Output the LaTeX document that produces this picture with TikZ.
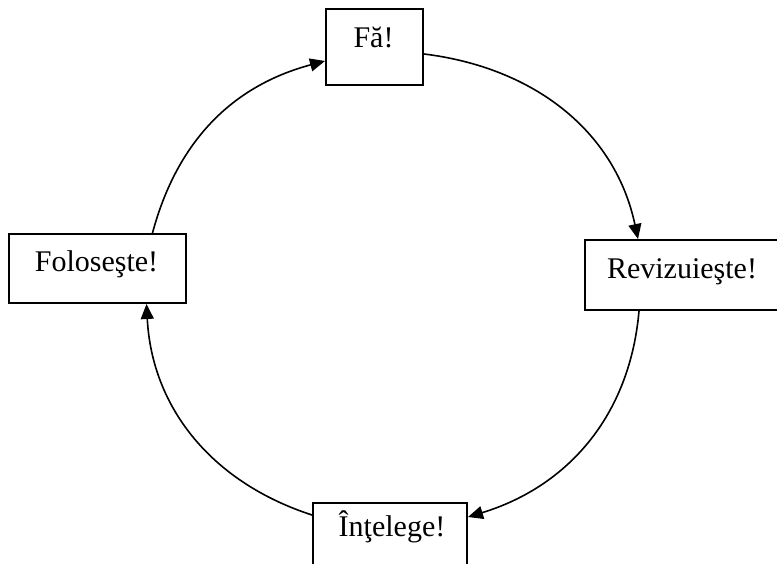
\documentclass[tikz,border=0pt]{standalone}
\usepackage{fontspec}
\setmainfont{Liberation Serif}
\usetikzlibrary{arrows.meta}
\begin{document}
\begin{tikzpicture}[x=1pt,y=1pt,
  stepbox/.style={draw, line width=2pt, inner sep=0pt, fill=white},
  lbl/.style={inner sep=0pt, font=\fontsize{30}{36}\selectfont},
  flow/.style={line width=1.6pt, -{Triangle[length=15pt,width=13pt]}}]
  \useasboundingbox (0,0) rectangle (777,563);
  \clip (0,0) rectangle (777,563);

  % boxes of the cycle
  \node[stepbox, minimum width=97pt, minimum height=76pt] (fa) at (374.5,516) {};
  \node[stepbox, minimum width=194pt, minimum height=70pt] (rev) at (682,288) {};
  \node[stepbox, minimum width=177pt, minimum height=69pt] (fol) at (97.5,294.5) {};
  \node[stepbox, minimum width=154pt, minimum height=70pt] (int) at (390,25) {};

  % texts, set near the top of each box
  \node[lbl, anchor=base] (falbl) at ([xshift=-1pt,yshift=-40pt]fa.north) {Fă!};
  \node[lbl, anchor=base] (revlbl) at ([yshift=-40pt]rev.north) {Revizuieşte!};
  \node[lbl, anchor=base] (follbl) at ([xshift=-1pt,yshift=-39pt]fol.north) {Foloseşte!};
  \node[lbl, anchor=base] (intlbl) at ([xshift=2pt,yshift=-34pt]int.north) {Înţelege!};

  % the cycle, clockwise
  \draw[flow] ([yshift=-7pt]fa.east) to[out=-7, in=102] ([xshift=-44pt]rev.north);
  \draw[flow] ([xshift=-43pt]rev.south) to[out=-95, in=17] ([yshift=21pt]int.east);
  \draw[flow] ([yshift=23pt]int.west) to[out=162, in=-87] ([xshift=49pt]fol.south);
  \draw[flow] ([xshift=55pt]fol.north) to[out=75, in=195] ([yshift=-14pt]fa.west);
\end{tikzpicture}
\end{document}
